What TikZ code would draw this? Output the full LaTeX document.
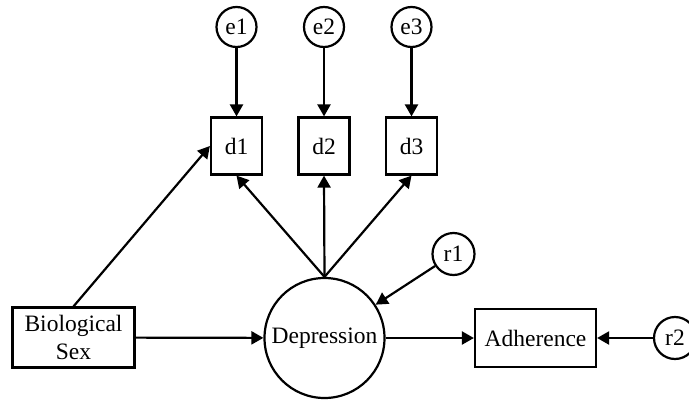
\documentclass[tikz,border=0pt]{standalone}
\usepackage{fontspec}
\setmainfont{Liberation Serif}
\usetikzlibrary{arrows.meta}
\begin{document}
\begin{tikzpicture}[x=1pt,y=-1pt,
  every node/.style={font=\fontsize{23.5}{28}\selectfont, inner sep=0pt, line width=2.2pt, draw},
  obs/.style={rectangle, minimum width=#1, minimum height=57pt},
  lat/.style={circle, minimum size=#1},
  conn/.style={line width=2.2pt, -{Triangle[length=12pt,width=13pt]}}]
\useasboundingbox (0,0) rectangle (689,402);
\node[lat=40pt] (e1) at (236.5,27) {e1};
\node[lat=40pt] (e2) at (324,27) {e2};
\node[lat=40pt] (e3) at (411.5,27) {e3};
\node[obs=51pt] (d1) at (236.5,146) {d1};
\node[obs=51pt] (d2) at (324,146) {d2};
\node[obs=51pt] (d3) at (411.5,146) {d3};
\node[obs=122pt, minimum height=60pt, align=center] (bio) at (73.5,337.5) {Biological\\Sex};
\node[lat=120pt] (dep) at (324.5,338) {Depression};
\node[lat=42pt] (r1) at (453.5,254) {r1};
\node[obs=121pt, minimum height=58pt] (adh) at (535.5,338) {Adherence};
\node[lat=42pt] (r2) at (675,338) {r2};
\draw[conn] (e1) -- (d1);
\draw[conn] (e2) -- (d2);
\draw[conn] (e3) -- (d3);
\draw[conn] (bio.north) -- (d1.west);
\draw[conn] (dep.north) -- (d1.south);
\draw[conn] (dep.north) -- (d2.south);
\draw[conn] (dep.north) -- (d3.south);
\draw[conn] (bio) -- (dep);
\draw[conn] (r1) -- (dep);
\draw[conn] (dep) -- (adh);
\draw[conn] (r2) -- (adh);
\end{tikzpicture}
\end{document}
